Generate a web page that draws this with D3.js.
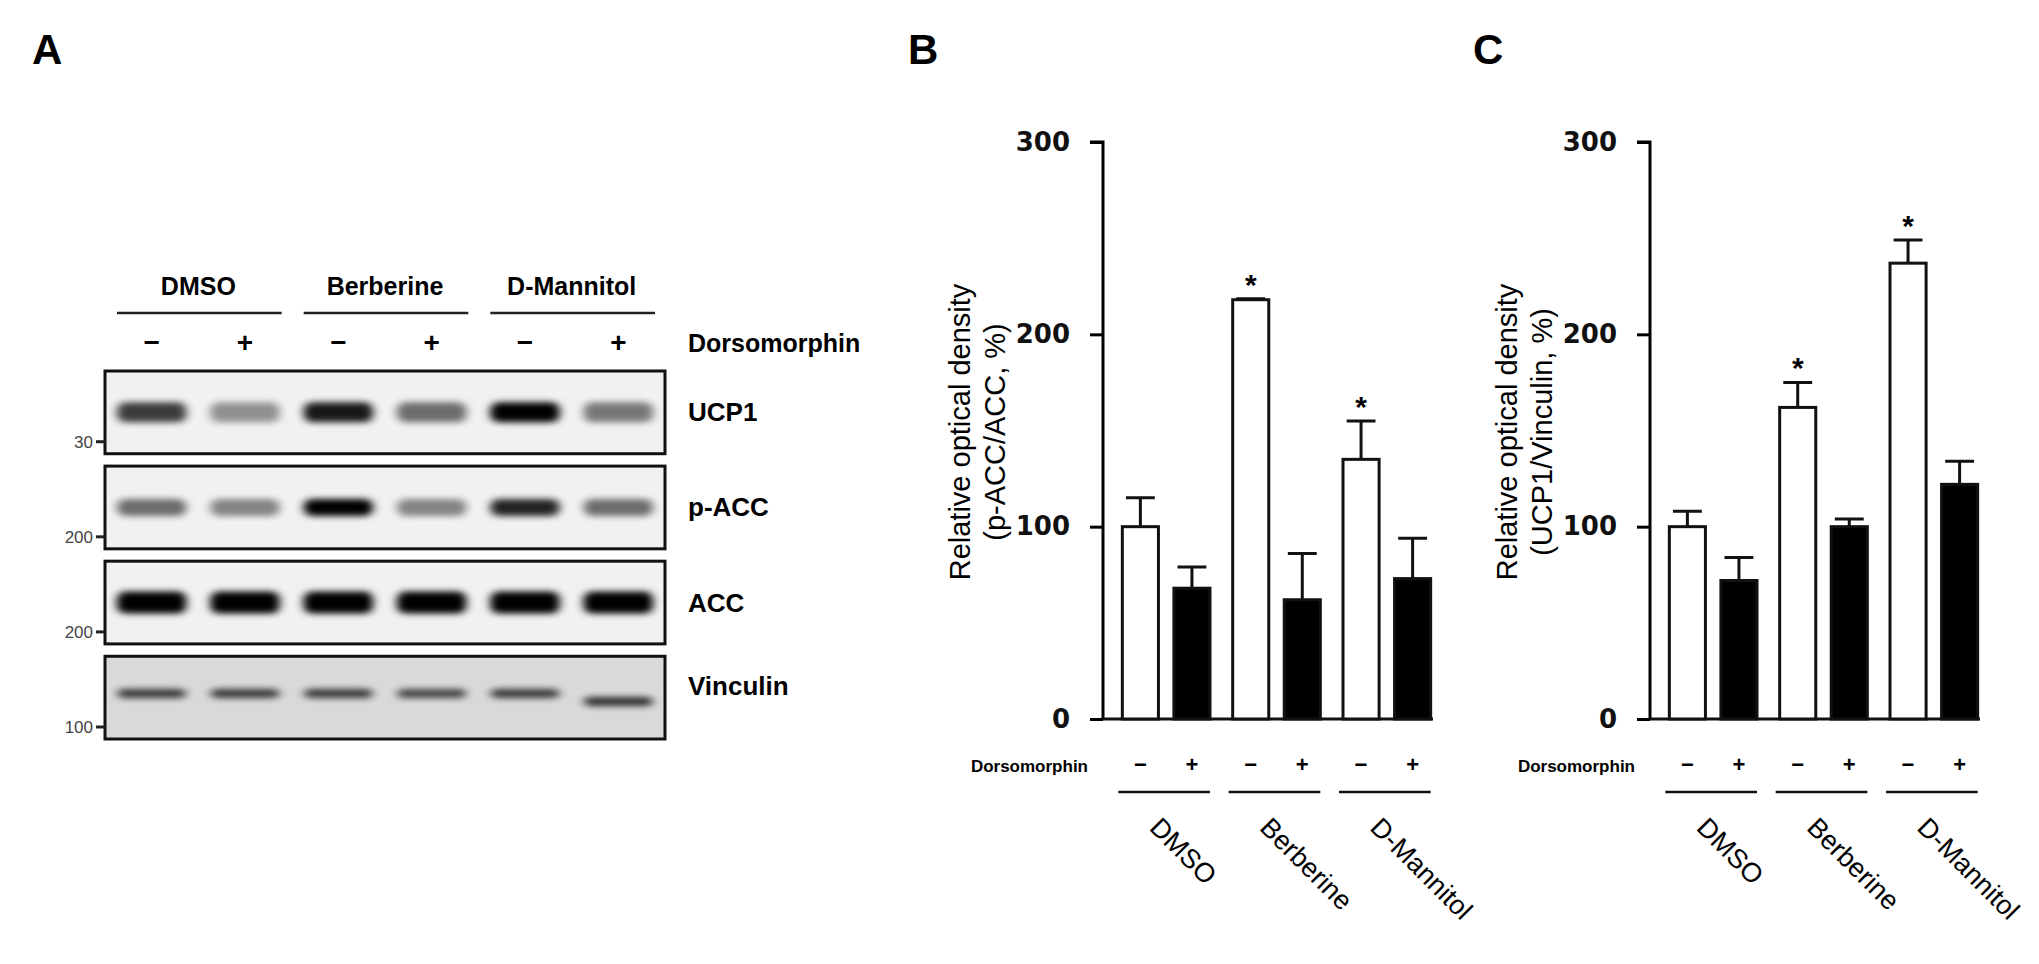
<!DOCTYPE html>
<html><head><meta charset="utf-8">
<script src="https://cdn.jsdelivr.net/npm/d3@7"></script>
<style>body{margin:0;background:#fff}</style>
</head><body><svg id="s" width="2039" height="964"></svg>
<script>
// ---- data ----
const groups = ["DMSO","Berberine","D-Mannitol"];
const treat = ["−","+"];
const proteins = ["UCP1","p-ACC","ACC","Vinculin"];
const markers = ["30","200","200","100"];
// band darkness per lane (DMSO-,DMSO+,Ber-,Ber+,Man-,Man+)
const bandUCP1 = [0.75,0.4,0.9,0.55,1.0,0.5];
const bandPACC = [0.55,0.45,1.0,0.45,0.85,0.55];
const bandACC = [1.0,1.0,1.0,1.0,1.0,1.0];
const bandVinc = [0.75,0.75,0.75,0.7,0.75,0.8];
const bandSets = [bandUCP1,bandPACC,bandACC,bandVinc];
const yTicks = [0,100,200,300];
// panel B: p-ACC/ACC
const bNoDor = [100,218,135], bNoDorErr = [15,0.5,20];
const bDor = [68,62,73], bDorErr = [11,24,21];
// panel C: UCP1/Vinculin
const cNoDor = [100,162,237], cNoDorErr = [8,13,12];
const cDor = [72,100,122], cDorErr = [12,4,12];
const bSig = [false,true,true], cSig = [false,true,true];

const svg = d3.select("#s");
const F = "'Liberation Sans', Arial, sans-serif";
const FN = "'Liberation Sans Narrow','Liberation Sans', Arial, sans-serif";

// panel letters
[["A",32,64],["B",908,64],["C",1473,64]].forEach(d=>svg.append("text").attr("x",d[1]).attr("y",d[2])
  .attr("font-family",F).attr("font-weight","bold").attr("font-size",42).text(d[0]));

// ---- Panel A blot ----
const defs = svg.append("defs");
const flt = defs.append("filter").attr("id","blur").attr("x","-50%").attr("y","-200%").attr("width","200%").attr("height","500%");
flt.append("feGaussianBlur").attr("stdDeviation","5 3");
const lanes = d3.range(6);
const lx = d3.scaleBand().domain(lanes).range([105,665]);
const rowY = d3.scaleBand().domain(proteins).range([371,739]).paddingInner(0.13);
const gx = d3.scaleBand().domain(groups).range([105,665]);
svg.selectAll(".gl").data(groups).join("text").attr("x",g=>gx(g)+gx.bandwidth()/2).attr("y",295)
  .attr("text-anchor","middle").attr("font-family",FN).attr("font-weight","bold").attr("font-size",25).text(g=>g);
svg.selectAll(".gline").data(groups).join("line")
  .attr("x1",g=>gx(g)+12).attr("x2",g=>gx(g)+gx.bandwidth()-10).attr("y1",313).attr("y2",313)
  .attr("stroke","#222").attr("stroke-width",2.5);
svg.selectAll(".pm").data(lanes).join("text").attr("x",i=>lx(i)+lx.bandwidth()/2).attr("y",352)
  .attr("text-anchor","middle").attr("font-family",F).attr("font-weight","bold").attr("font-size",28)
  .text(i=>treat[i%2]);
svg.append("text").attr("x",688).attr("y",352).attr("font-family",FN).attr("font-weight","bold").attr("font-size",25).text("Dorsomorphin");
proteins.forEach((p,pi)=>{
  const y0 = rowY(p), h = rowY.bandwidth();
  const g = svg.append("g");
  g.append("rect").attr("x",105).attr("y",y0).attr("width",560).attr("height",h)
    .attr("fill", p==="Vinculin" ? "#d9d9d9" : "#f1f1f1");
  const bh = p==="ACC"?22:(p==="Vinculin"?9:(p==="UCP1"?20:17));
  const by = p==="Vinculin"? y0+h*0.45 : y0+h*0.5;
  g.selectAll("rect.band").data(bandSets[pi]).join("rect").attr("class","band")
    .attr("x",(d,i)=>lx(i)+12).attr("width",lx.bandwidth()-24)
    .attr("y",(d,i)=>by-bh/2 + (p==="Vinculin" && i===5 ? 8 : 0)).attr("height",bh).attr("rx",8)
    .attr("fill","#000").attr("opacity",d=>d).attr("filter","url(#blur)");
  g.append("rect").attr("x",105).attr("y",y0).attr("width",560).attr("height",h)
    .attr("fill","none").attr("stroke","#111").attr("stroke-width",3);
  svg.append("text").attr("x",688).attr("y",y0+h/2+(p==="Vinculin"?-3:9)).attr("font-family",FN).attr("font-weight","bold").attr("font-size",26).text(p);
  const ty = y0+h-12;
  svg.append("line").attr("x1",96).attr("x2",105).attr("y1",ty).attr("y2",ty).attr("stroke","#222").attr("stroke-width",3);
  svg.append("text").attr("x",93).attr("y",ty+6).attr("text-anchor","end").attr("font-family",FN)
    .attr("font-size",17).attr("fill","#444").text(markers[pi]);
});

// ---- bar panels ----
function barPanel(ox, noDor, noDorErr, dor, dorErr, sig, title2){
  const y = d3.scaleLinear().domain([0,300]).range([719,142]);
  const x0 = d3.scaleBand().domain(groups).range([ox+8, ox+339]).paddingInner(0.0).paddingOuter(0.0);
  const x1 = d3.scaleBand().domain([0,1]).range([0,x0.bandwidth()]).paddingInner(0.3).paddingOuter(0.22);
  const g = svg.append("g");
  const ax = g.append("g").attr("transform",`translate(${ox},0)`).call(d3.axisLeft(y).tickValues(yTicks).tickSize(13).tickPadding(20));
  ax.select(".domain").attr("stroke-width",3).attr("d",`M-13,${y(300)}H0V${y(0)}`);
  ax.selectAll(".tick line").attr("stroke-width",3);
  ax.selectAll(".tick text").attr("font-family","'DejaVu Sans', sans-serif").attr("font-weight","bold").attr("font-size",26).attr("fill","#111");
  g.append("line").attr("x1",ox).attr("x2",ox+330).attr("y1",y(0)).attr("y2",y(0)).attr("stroke","#111").attr("stroke-width",3);
  const rows = [];
  groups.forEach((gr,i)=>{
    rows.push({g:gr,k:0,v:noDor[i],e:noDorErr[i],s:sig[i]});
    rows.push({g:gr,k:1,v:dor[i],e:dorErr[i],s:false});
  });
  const bx = d=>x0(d.g)+x1(d.k), bw = x1.bandwidth();
  g.selectAll(".err").data(rows).join("path")
    .attr("d",d=>`M${bx(d)+bw/2},${y(d.v)}V${y(d.v+d.e)}M${bx(d)+bw*0.1},${y(d.v+d.e)}H${bx(d)+bw*0.9}`)
    .attr("stroke","#111").attr("stroke-width",3).attr("fill","none");
  g.selectAll(".bar").data(rows).join("rect")
    .attr("x",bx).attr("width",bw).attr("y",d=>y(d.v)).attr("height",d=>y(0)-y(d.v))
    .attr("fill",d=>d.k?"#000":"#fff").attr("stroke","#111").attr("stroke-width",3);
  g.selectAll(".star").data(rows.filter(d=>d.s)).join("text")
    .attr("x",d=>bx(d)+bw/2).attr("y",d=>y(d.v+d.e)-4).attr("text-anchor","middle")
    .attr("font-family",F).attr("font-weight","bold").attr("font-size",30).text("*");
  g.append("text").attr("x",ox-15).attr("y",772).attr("text-anchor","end").attr("font-family",F)
    .attr("font-weight","bold").attr("font-size",17).text("Dorsomorphin");
  g.selectAll(".pm").data(rows).join("text").attr("x",d=>bx(d)+bw/2).attr("y",772).attr("text-anchor","middle")
    .attr("font-family",F).attr("font-weight","bold").attr("font-size",22).text(d=>treat[d.k]);
  g.selectAll(".gl").data(groups).join("line").attr("x1",gr=>x0(gr)+x1(0)-4).attr("x2",gr=>x0(gr)+x1(1)+bw)
    .attr("y1",792).attr("y2",792).attr("stroke","#111").attr("stroke-width",2.5);
  g.selectAll(".gn").data(groups).join("text")
    .attr("transform",gr=>`translate(${x0(gr)+x0.bandwidth()/2-18},829) rotate(45)`)
    .attr("font-family",F).attr("font-size",27).text(gr=>gr);
  const t = g.append("text").attr("transform",`translate(${ox-133},432) rotate(-90)`).attr("text-anchor","middle")
    .attr("font-family",F).attr("font-size",29);
  t.append("tspan").attr("x",0).attr("dy",0).text("Relative optical density");
  t.append("tspan").attr("x",0).attr("dy",35).text(title2);
}
barPanel(1103,bNoDor,bNoDorErr,bDor,bDorErr,bSig,"(p-ACC/ACC, %)");
barPanel(1650,cNoDor,cNoDorErr,cDor,cDorErr,cSig,"(UCP1/Vinculin, %)");
</script></body></html>
